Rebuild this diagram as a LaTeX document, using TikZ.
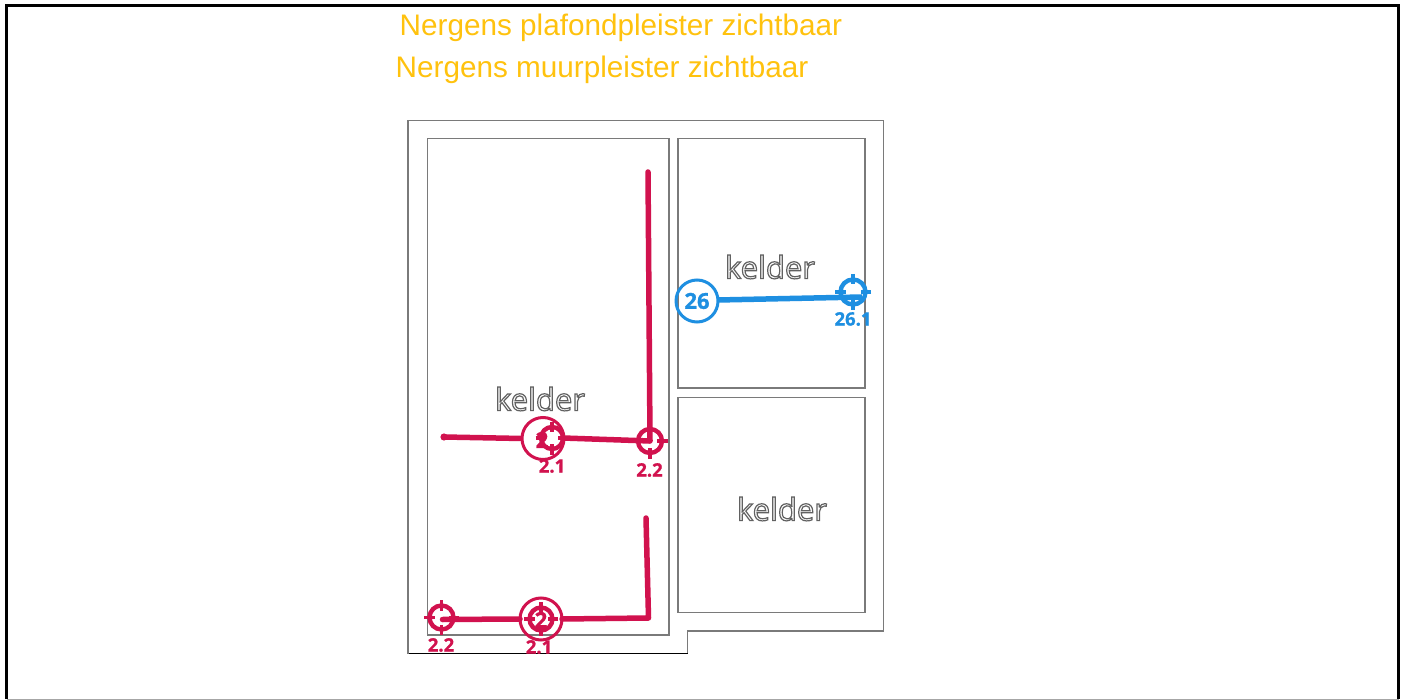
\documentclass[tikz,border=0pt]{standalone}
\usepackage{fontspec}
\setmainfont{Liberation Sans}
\newfontfamily\labelfont{Open Sans}
\definecolor{pinkline}{HTML}{D1124E}
\definecolor{blueline}{HTML}{1E8FE1}
\definecolor{titleyellow}{HTML}{FFC20E}
\definecolor{wallgray}{HTML}{7A7A7A}
\newcommand{\outlinetext}[1]{\special{pdf:code q 1 Tr 1.2 w 0.38 G}#1\special{pdf:code Q}}
\newcommand{\targetmark}[4]{% name, position, colour, radius
  \node[targetring,draw=#3,minimum size=#4*2pt] (#1) at (#2) {};
  \draw[targettick,#3] ([yshift=5.5pt]#1.north) -- ([yshift=-5pt]#1.north);
  \draw[targettick,#3] ([yshift=-5.5pt]#1.south) -- ([yshift=5pt]#1.south);
  \draw[targettick,#3] ([xshift=-5.5pt]#1.west) -- ([xshift=5pt]#1.west);
  \draw[targettick,#3] ([xshift=5.5pt]#1.east) -- ([xshift=-5pt]#1.east);
}
\tikzset{
  wall/.style={draw=wallgray,line width=1.3pt},
  roomtext/.style={font=\labelfont\fontsize{31}{31}\selectfont,text=white,inner sep=0pt},
  titletext/.style={font=\fontsize{29.7}{30}\selectfont,text=titleyellow,anchor=west,inner sep=0pt},
  targetring/.style={circle,line width=4.4pt,inner sep=0pt,outer sep=0pt},
  targettick/.style={line width=3.6pt},
  bigring/.style={circle,line width=3pt,inner sep=0pt,outer sep=0pt,minimum size=42pt,fill=white},
  run/.style={line width=5.5pt,line cap=round,line join=round},
  tag/.style={font=\labelfont\bfseries\addfontfeature{FakeBold=1}\fontsize{18.5}{19}\selectfont,inner sep=0pt},
  digit/.style={font=\labelfont\bfseries\addfontfeature{FakeBold=1}\fontsize{22}{22}\selectfont,inner sep=0pt},
}
\begin{document}
\begin{tikzpicture}[x=1pt,y=-1pt]
\useasboundingbox (0,0) rectangle (1405,700);
\fill[white] (0,0) rectangle (1405,700);
% page frame
\draw[black,line width=3pt] (6.5,699) -- (6.5,6) -- (1398.5,6) -- (1398.5,699);
\draw[gray!70,line width=1.5pt] (6.5,699.3) -- (1398.5,699.3);
% titles
\node[titletext] (t1) at (399.5,28) {Nergens plafondpleister zichtbaar};
\node[titletext] (t2) at (395.5,70) {Nergens muurpleister zichtbaar};
% plan
\draw[wall] (408,120.5) -- (883.5,120.5) -- (883.5,631) -- (687.5,631) -- (687.5,653.5);
\draw[black,line width=1.2pt] (687.5,653.5) -- (408,653.5);
\draw[wall] (408,653.5) -- (408,120.5);
\draw[wall] (427.5,138.5) rectangle (669,635);
\draw[wall] (678,138.5) rectangle (865,388);
\draw[wall] (678,397.5) rectangle (865,612.5);
% room names
\node[roomtext] (k1) at (540,399) {\outlinetext{kelder}};
\node[roomtext] (k2) at (770,267) {\outlinetext{kelder}};
\node[roomtext] (k3) at (782,509) {\outlinetext{kelder}};

% upper red run
\coordinate (dotA) at (444,437);
\coordinate (topA) at (648,172);
\node[bigring,draw=pinkline,fill=none] (c2a) at (543,438.5) {};
\node[digit,text=pinkline] (n2a) at (542,440) {2};
\targetmark{t21a}{552,438}{pinkline}{11}
\targetmark{t22a}{650,441}{pinkline}{12}
\fill[pinkline] (dotA) circle (3.6pt);
\draw[run,pinkline,line cap=butt] (dotA) -- (c2a.west);
\draw[run,pinkline,line cap=butt] (t21a.east) -- (t22a.center);
\draw[run,pinkline] (topA) -- (t22a.center);
\node[tag,text=pinkline] (l21a) at (552,466) {2.1};
\node[tag,text=pinkline] (l22a) at (649.5,470) {2.2};

% lower red run
\coordinate (topB) at (646,518);
\coordinate (bendB) at (648.5,618);
\node[bigring,draw=pinkline,fill=none] (c2b) at (541,619) {};
\targetmark{t21b}{541,619}{pinkline}{11.5}
\node[digit,text=pinkline] (n2b) at (541,620) {2};
\targetmark{t22b}{441.5,617.5}{pinkline}{12}
\draw[run,pinkline] (t22b.center) ++(1,2) -- (c2b.west);
\draw[run,pinkline] (topB) -- (bendB) -- (c2b.east);
\node[tag,text=pinkline] (l22b) at (441,645) {2.2};
\node[tag,text=pinkline] (l21b) at (539,647) {2.1};

% blue run
\node[circle,draw=blueline,line width=3pt,minimum size=42pt,inner sep=0pt,outer sep=0pt,text=blueline,digit] (c26) at (697,301) {26};
\targetmark{t261}{853,292}{blueline}{12.5}
\coordinate (endC) at (862,297);
\draw[run,blueline,line cap=butt] (c26.east) ++(0,-1) -- (endC);
\node[tag,text=blueline] (l261) at (853,319) {26.1};
\end{tikzpicture}
\end{document}
